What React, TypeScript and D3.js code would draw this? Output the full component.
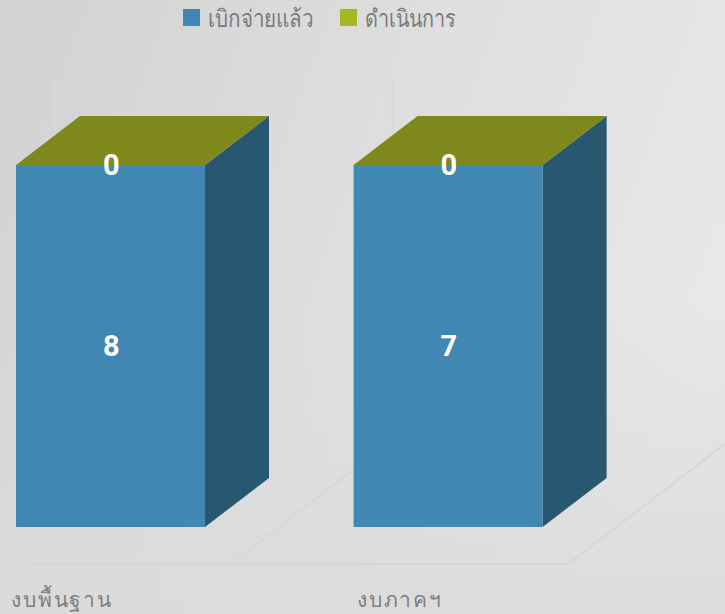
import React from "react";
import * as d3 from "d3";

const categories = ["งบพื้นฐาน", "งบภาคฯ"];
const disbursed = [8, 7];
const operating = [0, 0];
const seriesNames = ["เบิกจ่ายแล้ว", "ดำเนินการ"];
const seriesColors = ["#4087b3", "#a6b821"];
const topColor = "#7f881b";
const sideColor = "#285870";

const W = 725, H = 614;
const bottom = 527, top = 165;
const dx = 64, dy = -49;
const floorDx = 162, floorDy = -124;
const floorY = 564;

const x = d3.scaleBand<string>().domain(categories).range([-107, 568.2]).paddingInner(0).paddingOuter(0);
const y = d3.scaleLinear().domain([0, 1]).range([bottom, top]);
const rows = categories.map((c, i) => ({ c, a: disbursed[i], b: operating[i] }));
const stacked = d3.stack<any>().keys(["a", "b"]).offset(d3.stackOffsetExpand)(rows);

const barLeft = (c: string) => (x(c) as number) + 123;
const barW = 189;
const poly = (p: number[][]) => (d3.line()(p as any) as string) + "Z";

export default function App() {
  const gridXs = [...categories.map((c) => x(c) as number), x.range()[1]];
  return (
    <svg width={W} height={H} style={{ position: "absolute", left: 0, top: 0, display: "block" }}>
      <defs>
        <linearGradient id="bg" gradientUnits="userSpaceOnUse" x1="0" y1="40" x2="725" y2="300">
          <stop offset="0" stopColor="#d2d2d2" />
          <stop offset="0.55" stopColor="#dfdfdf" />
          <stop offset="1" stopColor="#e8e8e8" />
        </linearGradient>
        <linearGradient id="bg2" gradientUnits="userSpaceOnUse" x1="0" y1="300" x2="0" y2="614">
          <stop offset="0" stopColor="#dbdbdb" stopOpacity="0" />
          <stop offset="1" stopColor="#dbdbdb" stopOpacity="0.9" />
        </linearGradient>
      </defs>
      <rect width={W} height={H} fill="url(#bg)" />
      <rect width={W} height={H} fill="url(#bg2)" />

      <g stroke="#d7d7d7" strokeWidth={2} fill="none">
        <path d={`M${gridXs[0]},${floorY}H${gridXs[2]}`} />
        {gridXs.map((gx) => (
          <path key={gx} d={poly([[gx, floorY], [gx + floorDx, floorY + floorDy], [gx + floorDx, 80]]).replace("Z", "")} />
        ))}
      </g>

      {categories.map((c, i) => {
        const l = barLeft(c);
        const y0 = y(stacked[0][i][0]);
        const y1 = y(stacked[0][i][1]);
        const r = l + barW;
        const mid = l + barW / 2 + 0.8;
        return (
          <g key={c}>
            <path d={poly([[r, y1], [r + dx, y1 + dy], [r + dx, y0 + dy], [r, y0]])} fill={sideColor} />
            <rect x={l} y={y1} width={barW} height={y0 - y1} fill={seriesColors[0]} />
            <path d={poly([[l, y1], [r, y1], [r + dx, y1 + dy], [l + dx, y1 + dy]])} fill={topColor} />
            <text x={mid} y={(y0 + y1) / 2 + 10} textAnchor="middle" fill="#fff" fontFamily="Roboto, sans-serif" fontWeight={700} fontSize={29}>
              {disbursed[i]}
            </text>
            <text x={mid} y={y1 + 10} textAnchor="middle" fill="#fff" fontFamily="Roboto, sans-serif" fontWeight={700} fontSize={29}>
              {operating[i]}
            </text>
          </g>
        );
      })}

      {seriesNames.map((n, i) => {
        const lx = [183, 340][i];
        return (
          <g key={n}>
            <rect x={lx} y={9} width={17} height={17} fill={seriesColors[i]} />
            <text x={lx + 25} y={27} fontFamily="'Noto Sans', sans-serif" fontSize={24} fontWeight={300} fill="#7a7a7a"
              textLength={[105, 91][i]} lengthAdjust="spacingAndGlyphs">{n}</text>
          </g>
        );
      })}

      {categories.map((c, i) => (
        <text key={c} x={[11, 357][i]} y={607} fontFamily="'Noto Sans', sans-serif" fontSize={21} fontWeight={300} fill="#7f7f7f"
          textLength={[100, 84][i]} lengthAdjust="spacing">{c}</text>
      ))}
    </svg>
  );
}
